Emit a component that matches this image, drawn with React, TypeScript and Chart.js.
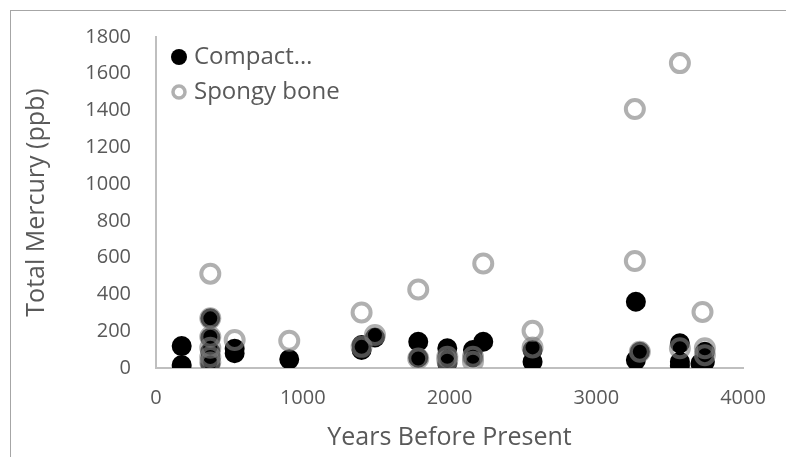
import React, { useEffect, useRef } from "react";
import { Chart, registerables } from "chart.js";

Chart.register(...registerables);

const compactYears = [175, 175, 370, 370, 370, 370, 370, 536, 536, 908, 1401, 1401, 1492, 1787, 1787, 1985, 1985, 1985, 2160, 2160, 2230, 2566, 2566, 3270, 3270, 3297, 3570, 3570, 3570, 3740, 3740, 3710];
const compactHg = [119, 16, 270, 165, 90, 50, 25, 105, 80, 47, 125, 98, 166, 143, 56, 107, 61, 27, 98, 58, 143, 98, 34, 360, 43, 88, 134, 34, 15, 88, 34, 25];

const spongyYears = [370, 370, 370, 370, 370, 370, 536, 908, 1401, 1401, 1492, 1787, 1787, 1985, 1985, 2160, 2160, 2230, 2566, 2566, 3263, 3263, 3297, 3570, 3570, 3724, 3740, 3740];
const spongyHg = [513, 270, 170, 110, 60, 30, 152, 148, 302, 115, 179, 427, 52, 61, 40, 61, 34, 568, 202, 112, 1408, 582, 88, 1658, 107, 305, 107, 70];

const seriesNames = ["Compact\u2026", "Spongy bone"];
const xTitle = "Years Before Present";
const yTitle = "Total Mercury (ppb)";

const FONT = "'Open Sans', 'Noto Sans', sans-serif";
const TEXT = "#595959";
const RING = "rgba(128,128,128,0.62)";

const legendPlugin = {
  id: "insideLegend",
  afterDraw(chart: any) {
    const ctx = chart.ctx;
    ctx.save();
    const x0 = 179;
    const rows = [57, 92];
    ctx.font = `24px ${FONT}`;
    ctx.textBaseline = "middle";
    ctx.beginPath();
    ctx.arc(x0, rows[0], 8, 0, Math.PI * 2);
    ctx.fillStyle = "#000";
    ctx.fill();
    ctx.beginPath();
    ctx.arc(x0, rows[1], 6, 0, Math.PI * 2);
    ctx.lineWidth = 3.5;
    ctx.strokeStyle = RING;
    ctx.stroke();
    ctx.fillStyle = TEXT;
    ctx.fillText(seriesNames[0], 194, rows[0]);
    ctx.fillText(seriesNames[1], 194, rows[1]);
    ctx.restore();
  },
};

export default function App() {
  const ref = useRef<HTMLCanvasElement>(null);
  useEffect(() => {
    if (!ref.current) return;
    const chart = new Chart(ref.current, {
      type: "scatter",
      data: {
        datasets: [
          {
            label: seriesNames[0],
            data: compactYears.map((x, i) => ({ x, y: compactHg[i] })),
            pointRadius: 9,
            pointBorderWidth: 2,
            pointBackgroundColor: "#000",
            pointBorderColor: "#000",
            order: 2,
          },
          {
            label: seriesNames[1],
            data: spongyYears.map((x, i) => ({ x, y: spongyHg[i] })),
            pointRadius: 9,
            pointBorderWidth: 4,
            pointBackgroundColor: "rgba(0,0,0,0)",
            pointBorderColor: RING,
            order: 1,
          },
        ],
      },
      options: {
        responsive: false,
        animation: false,
        layout: { padding: { left: 0, top: 36, right: 43, bottom: 0 } },
        plugins: { legend: { display: false }, tooltip: { enabled: false } },
        scales: {
          x: {
            type: "linear",
            min: 0,
            max: 4000,
            ticks: { stepSize: 1000, color: TEXT, font: { family: FONT, size: 20 }, padding: 18, callback: (v: any) => String(v) },
            grid: { display: true, drawOnChartArea: false, drawTicks: false, color: "#D9D9D9" },
            border: { color: "#BFBFBF", width: 2 },
            title: { display: true, text: xTitle, color: TEXT, font: { family: FONT, size: 25 }, padding: { top: 0, bottom: 4 } },
            afterFit(scale: any) {
              scale.height = 89;
            },
          },
          y: {
            type: "linear",
            min: 0,
            max: 1800,
            ticks: { stepSize: 200, color: TEXT, font: { family: FONT, size: 20 }, padding: 25, callback: (v: any) => String(v) },
            grid: { display: true, drawOnChartArea: false, drawTicks: false, color: "#D9D9D9" },
            border: { color: "#BFBFBF", width: 2 },
            title: { display: true, text: yTitle, color: TEXT, font: { family: FONT, size: 25 }, padding: { top: 22, bottom: 0 } },
            afterFit(scale: any) {
              scale.width = 156;
            },
          },
        },
      },
      plugins: [legendPlugin],
    });
    return () => chart.destroy();
  }, []);
  return (
    <div style={{ position: "fixed", left: 0, top: 0, width: 786, height: 457, background: "#fff", overflow: "hidden" }}>
      <div style={{ position: "absolute", left: 10, top: 10, right: -5, bottom: -5, borderLeft: "1px solid #A6A6A6", borderTop: "1px solid #A6A6A6" }} />
      <canvas ref={ref} width={786} height={457} style={{ position: "absolute", left: 0, top: 0 }} />
    </div>
  );
}
